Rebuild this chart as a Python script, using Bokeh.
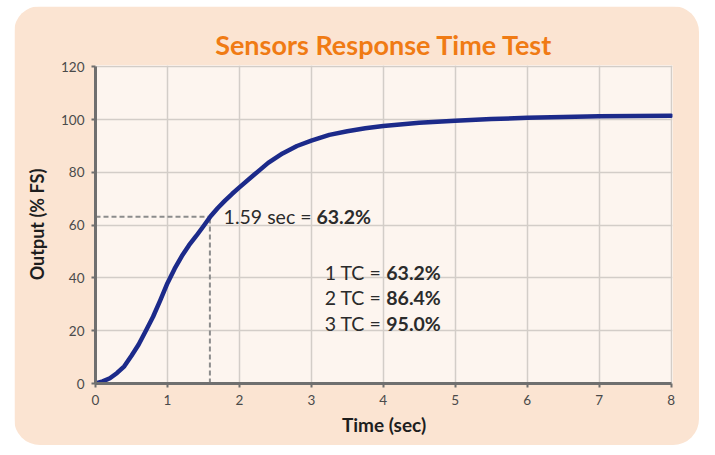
from bokeh.plotting import figure
from bokeh.models import Range1d, FixedTicker, ColumnDataSource
from bokeh.core.properties import value
from bokeh.embed import file_html
from bokeh.resources import INLINE

# ---- data ----
time_s = [0, 0.1, 0.2, 0.3, 0.4, 0.5, 0.6, 0.7, 0.8, 0.9, 1.0, 1.1, 1.2, 1.3,
          1.4, 1.5, 1.6, 1.7, 1.8, 1.9, 2.0, 2.2, 2.4, 2.6, 2.8, 3.0, 3.25,
          3.5, 3.75, 4.0, 4.5, 5.0, 5.5, 6.0, 6.5, 7.0, 7.5, 8.0]
output_pct = [0, 0.8, 2.0, 4.0, 6.5, 10.5, 14.8, 20.0, 25.3, 31.5, 38.0, 43.5,
              48.3, 52.4, 55.9, 59.6, 63.4, 66.5, 69.3, 71.9, 74.3, 79.0, 83.6,
              87.2, 90.0, 92.0, 94.2, 95.6, 96.7, 97.6, 98.8, 99.6, 100.2,
              100.7, 101.0, 101.3, 101.4, 101.5]
x_ticks = [0, 1, 2, 3, 4, 5, 6, 7, 8]
y_ticks = [0, 20, 40, 60, 80, 100, 120]
tc_time = 1.59
tc_value = 63.2
tc_names = ["1 TC =", "2 TC =", "3 TC ="]
tc_values = ["63.2%", "86.4%", "95.0%"]
tc_rows_y = [41.9, 32.4, 22.9]

FONT = "Lato"
TXT = "#2b2b2b"

p = figure(width=685, height=439, output_backend="svg", toolbar_location=None,
           x_range=Range1d(0, 8.02), y_range=Range1d(0, 120.5),
           min_border_left=81, min_border_right=27, min_border_bottom=62,
           min_border_top=59)
p.background_fill_color = "#fdf5ef"
p.border_fill_color = "#fbe4d2"
p.outline_line_color = None
p.styles = {"border-radius": "26px", "overflow": "hidden",
            "margin-left": "14px", "margin-top": "6px"}

p.title.text = "Sensors Response Time Test"
p.title.align = "center"
p.title.text_font = FONT
p.title.text_font_size = "27px"
p.title.text_font_style = "bold"
p.title.text_color = "#f07b14"
p.title.standoff = 10

for ax, ticks in ((p.xaxis, x_ticks), (p.yaxis, y_ticks)):
    ax.ticker = FixedTicker(ticks=ticks)
    ax.axis_line_color = "#6f6f6f"
    ax.axis_line_width = 3
    ax.major_tick_line_color = "#6f6f6f"
    ax.major_tick_line_width = 2
    ax.major_tick_out = 4
    ax.major_tick_in = 0
    ax.minor_tick_line_color = None
    ax.major_label_text_font = FONT
    ax.major_label_text_font_size = "13.5px"
    ax.major_label_text_color = "#4a4a4a"
    ax.axis_label_text_font = FONT
    ax.axis_label_text_font_style = "bold"
    ax.axis_label_text_color = "#1e1e1e"

p.xaxis.bounds = (0, 8)
p.yaxis.bounds = (0, 120)
p.xaxis.axis_label = "Time (sec)"
p.xaxis.axis_label_text_font_size = "19px"
p.xaxis.major_label_standoff = 7
p.xaxis.axis_label_standoff = 5
p.yaxis.axis_label = "Output (% FS)"
p.yaxis.axis_label_text_font_size = "18px"
p.yaxis.major_label_standoff = 7
p.yaxis.axis_label_standoff = 10

p.xgrid.ticker = FixedTicker(ticks=x_ticks[1:])
p.ygrid.ticker = FixedTicker(ticks=y_ticks[1:])
p.grid.grid_line_color = "#d3cdc8"
p.grid.grid_line_width = 1.5

# dashed guide lines at the time constant
p.line([0, tc_time], [tc_value, tc_value], line_color="#8c8c8c", line_width=2,
       line_dash="5 3")
p.line([tc_time, tc_time], [0, tc_value], line_color="#8c8c8c", line_width=2,
       line_dash="5 3")

# response curve
p.line(time_s, output_pct, line_color="#1c2a8a", line_width=4.5,
       line_join="round", line_cap="round")

FS = "19.5px"
# annotation: 1.59 sec = 63.2%
split1 = 3.03
p.text(x=[split1], y=[tc_value], text=[f"{tc_time} sec ="], text_align="right",
       text_baseline="middle", text_font=value(FONT), text_font_size=FS,
       text_color=TXT, x_offset=-2)
p.text(x=[split1], y=[tc_value], text=[f"{tc_value}%"], text_align="left",
       text_baseline="middle", text_font=value(FONT), text_font_size=FS,
       text_font_style="bold", text_color=TXT, x_offset=3)

split2 = 4.0
src = ColumnDataSource(dict(x=[split2] * 3, y=tc_rows_y, a=tc_names, b=tc_values))
p.text(x="x", y="y", text="a", source=src, text_align="right",
       text_baseline="middle", text_font=value(FONT), text_font_size=FS,
       text_color=TXT, x_offset=-2)
p.text(x="x", y="y", text="b", source=src, text_align="left",
       text_baseline="middle", text_font=value(FONT), text_font_size=FS,
       text_font_style="bold", text_color=TXT, x_offset=3)

open("out.html", "w").write(file_html(p, INLINE))
